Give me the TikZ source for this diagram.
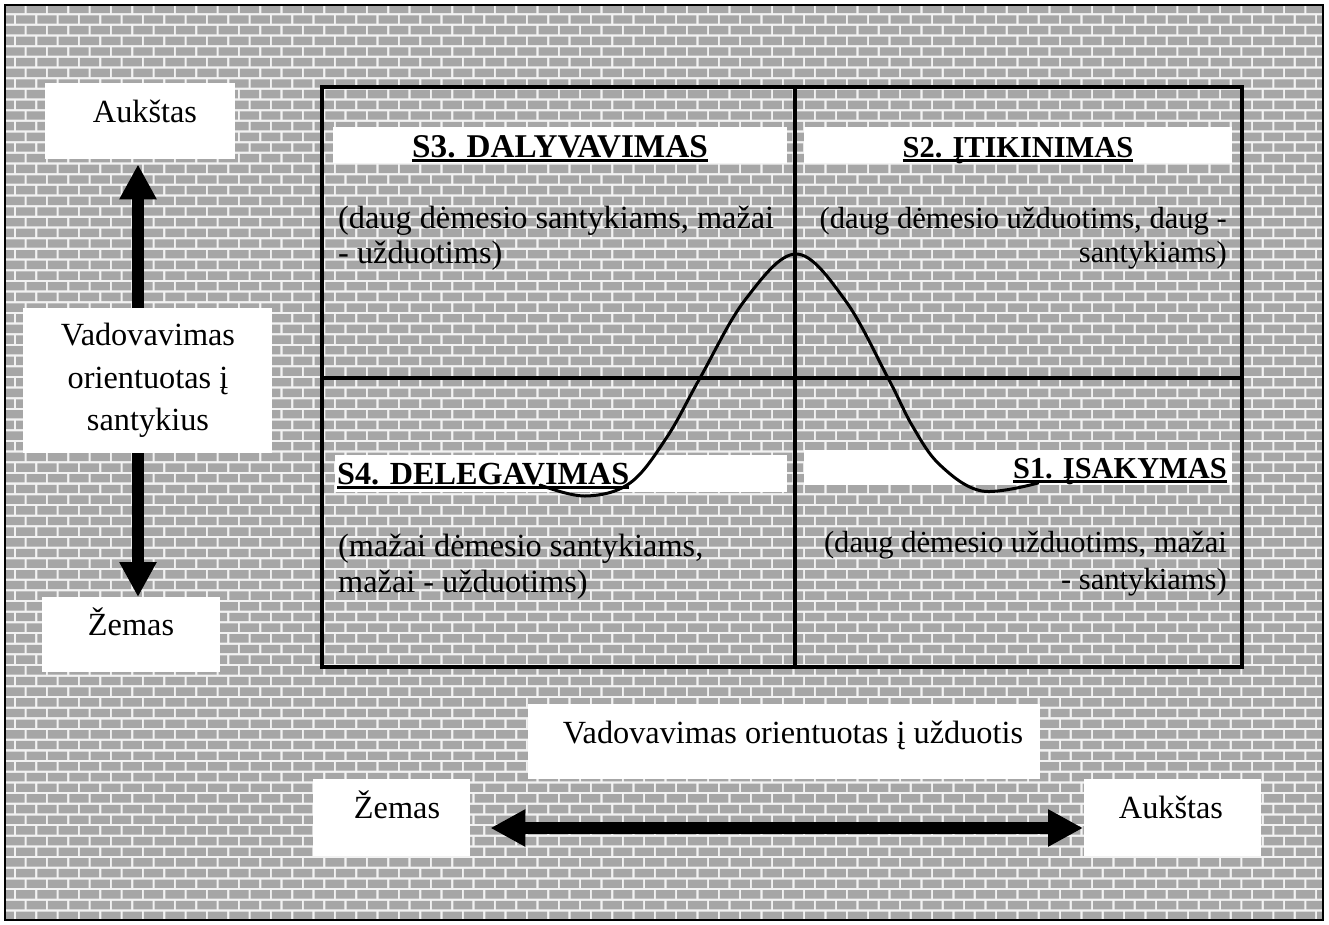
\documentclass[tikz,border=0pt]{standalone}
\usepackage{fontspec}
\setmainfont{Liberation Serif}
\usetikzlibrary{arrows.meta}

% underline with a heavy rule, as used for the style titles
\newcommand{\undl}[1]{\setbox0\hbox{#1}\rlap{\rule[-4.5pt]{\wd0}{2.8pt}}\box0}

\definecolor{brickgray}{HTML}{A6A6A6}
\definecolor{mortar}{HTML}{F2F2F2}

\tikzset{
  x=1pt, y=-1pt,
  whitebox/.style={draw=none, fill=white, inner sep=0pt, anchor=north west},
  txt/.style={inner sep=0pt, font=\fontsize{32.3}{36}\selectfont},
  txtr/.style={inner sep=0pt, font=\fontsize{30.6}{36}\selectfont},
  ttl/.style={inner sep=0pt, font=\fontsize{33.2}{36}\selectfont\bfseries},
  ttlr/.style={inner sep=0pt, font=\fontsize{30.4}{36}\selectfont\bfseries},
  gridline/.style={line width=4.8pt, line cap=rect},
  bigarrow/.style={line width=12pt, -{Triangle[length=35pt,width=35pt]}},
  bigdarrow/.style={line width=12pt, {Triangle[length=35pt,width=35pt]}-{Triangle[length=35pt,width=35pt]}},
}

\begin{document}
\begin{tikzpicture}
\useasboundingbox (0,0) rectangle (1329,924);
\fill[white] (0,0) rectangle (1329,924);

% brick-wall background inside the frame
\begin{scope}
  \clip (5,5) rectangle (1323,920);
  \fill[mortar] (5,5) rectangle (1323,920);
  \fill[brickgray]
    \foreach \r in {0,...,87} {
      \foreach \c in {0,...,63} {
        ({-16 + \c*21.33 + mod(\r,2)*10.67}, {4.6 + \r*10.67}) rectangle ++(19.2,8.4)
      }
    };
\end{scope}
\draw[line width=2pt] (5,5) rectangle (1323,920);

% quadrant grid
\draw[gridline] (322,87) rectangle (1242,667);
\draw[gridline] (795,87) -- (795,667);
\draw[gridline] (322,378) -- (1242,378);

% title boxes
\node[whitebox, minimum width=454pt, minimum height=36pt] (b3) at (333,127) {};
\node[whitebox, minimum width=428pt, minimum height=36pt] (b2) at (804,127) {};
\node[whitebox, minimum width=452pt, minimum height=37pt] (b4) at (335,455) {};
\node[whitebox, minimum width=428pt, minimum height=35pt] (b1) at (804,450) {};

% S3
\node[ttl, anchor=base] (t3) at (560,157) {\undl{S3. DALYVAVIMAS}};
\node[txt, anchor=base west] (d3a) at (338,228) {(daug dėmesio santykiams, mažai};
\node[txt, anchor=base west] (d3b) at (338,263) {- užduotims)};
% S2
\node[ttlr, anchor=base] (t2) at (1018,157) {\undl{S2. ĮTIKINIMAS}};
\node[txtr, anchor=base east] (d2a) at (1227,228) {(daug dėmesio užduotims, daug -};
\node[txtr, anchor=base east] (d2b) at (1227,262) {santykiams)};
% S4
\node[ttl, anchor=base west, font=\fontsize{32.2}{36}\selectfont\bfseries] (t4) at (337,484) {\undl{S4. DELEGAVIMAS}};
\node[txt, anchor=base west] (d4a) at (338,556) {(mažai dėmesio santykiams,};
\node[txt, anchor=base west] (d4b) at (338,592) {mažai - užduotims)};
% S1
\node[ttlr, anchor=base east] (t1) at (1227,478) {\undl{S1. ĮSAKYMAS}};
\node[txtr, anchor=base east] (d1a) at (1227,552) {(daug dėmesio užduotims, mažai};
\node[txtr, anchor=base east] (d1b) at (1227,589) {- santykiams)};

% vertical axis: relationship orientation
\node[whitebox, minimum width=190pt, minimum height=76pt] (hiV) at (45,83) {};
\node[txt, anchor=base] (hiVt) at (145,122) {Aukštas};
\node[whitebox, minimum width=249pt, minimum height=145pt] (midV) at (23,308) {};
\node[txt, anchor=base] (midV1) at (148,345) {Vadovavimas};
\node[txt, anchor=base] (midV2) at (148,388) {orientuotas į};
\node[txt, anchor=base] (midV3) at (148,430) {santykius};
\node[whitebox, minimum width=178pt, minimum height=75pt] (loV) at (42,597) {};
\node[txt, anchor=base] (loVt) at (131,635) {Žemas};
\coordinate (vaxis) at (138,0);
\draw[bigarrow] (midV.north -| vaxis) -- ([yshift=-5pt]hiV.south -| vaxis);
\draw[bigarrow] (midV.south -| vaxis) -- (loV.north -| vaxis);

% horizontal axis: task orientation
\node[whitebox, minimum width=512pt, minimum height=75pt] (midH) at (528,704) {};
\node[txt, anchor=base] (midHt) at (793,743) {Vadovavimas orientuotas į užduotis};
\node[whitebox, minimum width=157pt, minimum height=77pt] (loH) at (313,779) {};
\node[txt, anchor=base] (loHt) at (397,818) {Žemas};
\node[whitebox, minimum width=177pt, minimum height=77pt] (hiH) at (1084,779) {};
\node[txt, anchor=base] (hiHt) at (1171,818) {Aukštas};
\coordinate (haxis) at (0,828);
\draw[bigdarrow] ([xshift=20pt]loH.east |- haxis) -- ([xshift=-1pt]hiH.west |- haxis);

% life-cycle curve across the four styles
\draw[line width=3pt, line cap=round] plot[smooth, tension=0.6] coordinates {
  (540,485) (585,496) (630,483) (667,437) (700,378) (745,300) (796,254)
  (845,300) (888,378) (913,427) (940,465) (982,491) (1038,483)};
\end{tikzpicture}
\end{document}
